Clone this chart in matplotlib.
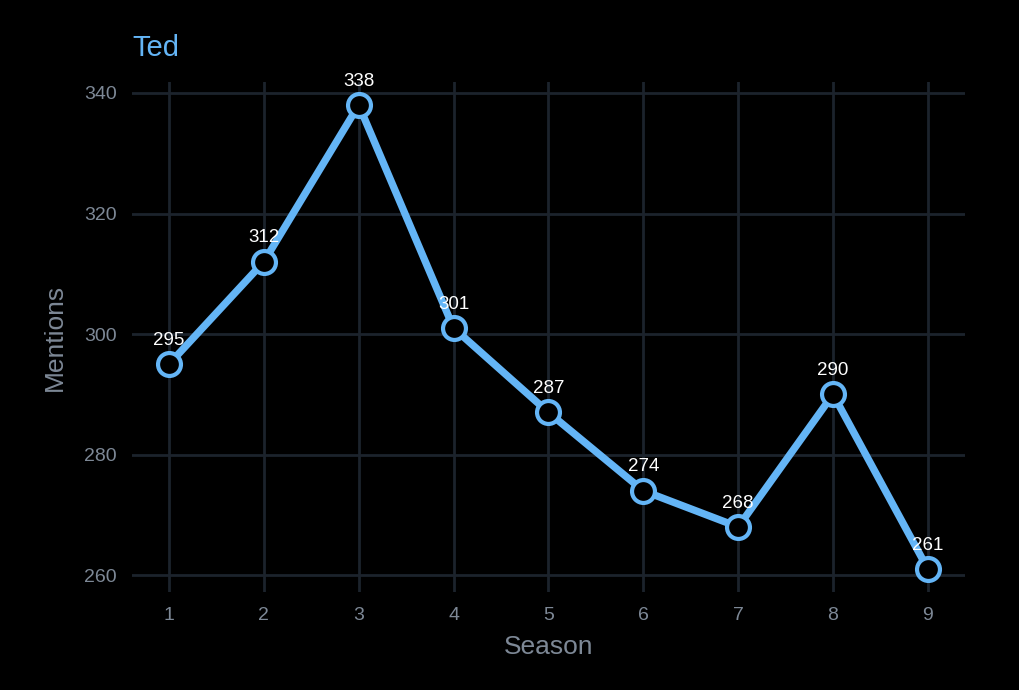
import matplotlib.pyplot as plt

plt.rcParams['font.family'] = ['Liberation Sans', 'DejaVu Sans']

seasons = [1, 2, 3, 4, 5, 6, 7, 8, 9]
mentions = [295, 312, 338, 301, 287, 274, 268, 290, 261]

line_color = '#64B5F6'
bg = '#000000'
grid_color = '#1c232c'
text_gray = '#7d8896'

fig = plt.figure(figsize=(10.2, 6.9), dpi=100, facecolor=bg)
ax = fig.add_axes([0.1294, 0.142, 0.8166, 0.739])
ax.set_facecolor(bg)

ax.plot(seasons, mentions, color=line_color, linewidth=5.3, zorder=3,
        marker='o', markersize=16.5, markerfacecolor=bg,
        markeredgecolor=line_color, markeredgewidth=3)

# value labels drawn over the line
for x, y in zip(seasons, mentions):
    ax.annotate(str(y), (x, y), xytext=(0, 11), textcoords='offset points',
                ha='center', va='bottom', color='white', fontsize=13.5, zorder=4)

ax.set_xlim(0.61, 9.39)
ax.set_ylim(257.2, 341.8)
ax.set_xticks(seasons)
ax.set_yticks([260, 280, 300, 320, 340])
ax.grid(True, color=grid_color, linewidth=2)
ax.set_axisbelow(True)
for s in ax.spines.values():
    s.set_visible(False)
ax.tick_params(length=0, colors=text_gray, labelsize=14, pad=11)

ax.set_xlabel('Season', color=text_gray, fontsize=19, labelpad=8)
ax.set_ylabel('Mentions', color=text_gray, fontsize=19, labelpad=12)
ax.set_title('Ted', loc='left', color=line_color, fontsize=21, pad=19)

fig.savefig('out.png', dpi=100, facecolor=bg)
